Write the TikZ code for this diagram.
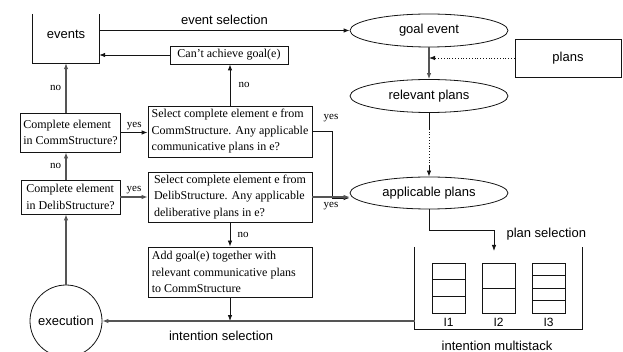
\documentclass[tikz,border=0pt]{standalone}
\usepackage{fontspec}
\setmainfont{Liberation Serif}
\setsansfont{Liberation Sans}
\usepackage{tikz}
\usetikzlibrary{shapes.geometric, arrows.meta, positioning, calc}
\definecolor{mydark}{RGB}{20,20,20}
\definecolor{mygray}{RGB}{85,85,85}
\tikzset{
  box/.style={rectangle, draw=mydark, line width=0.8pt, inner sep=3pt,
    font=\fontsize{12}{16.5}\selectfont, align=left},
  oval/.style={ellipse, draw=mydark, line width=0.8pt, minimum width=158pt,
    minimum height=33pt, font=\fontsize{13}{15}\sffamily},
  sanslbl/.style={font=\fontsize{13}{15}\sffamily, text=black},
  yn/.style={font=\fontsize{11}{13}\selectfont, text=black},
  arrow/.style={-{Latex[length=6pt,width=4.5pt]}, line width=0.8pt, color=mydark},
  grayarrow/.style={-{Latex[length=6pt,width=4.5pt]}, line width=1.1pt, color=mygray},
  line/.style={line width=0.8pt, color=mydark}
}
\begin{document}
\begin{tikzpicture}[x=1pt, y=-1pt]
\useasboundingbox (0,0) rectangle (623,352);
% left column
\node[minimum width=66pt, minimum height=49pt, inner sep=0pt] (ev) at (66,38.5) {};
\draw[line] (ev.north west) -- (ev.south west) -- (ev.south east) -- (ev.north east);
\node[sanslbl] (evtxt) at (66,34) {events};
\node[box, minimum width=99pt, minimum height=39pt] (cq) at (70.5,132.5)
  {Complete element\\in CommStructure?};
\node[box, minimum width=99pt, minimum height=34pt] (dq) at (70.5,197)
  {Complete element\\in DelibStructure?};
\node[circle, draw=mydark, line width=0.8pt, minimum size=72pt, sanslbl] (ex) at (66,321) {execution};
% middle column
\node[box, align=center, minimum width=118pt, minimum height=18pt] (cant) at (229,55) {Can't achieve goal(e)};
\node[box, minimum width=164pt, minimum height=51pt] (cs) at (230,131.5)
  {Select complete element e from\\CommStructure. Any applicable\\communicative plans in e?};
\node[box, minimum width=164pt, minimum height=50pt] (ds) at (230,197)
  {Select complete element e from\\DelibStructure. Any applicable\\deliberative plans in e?};
\node[box, minimum width=164pt, minimum height=50pt] (add) at (230,272)
  {Add goal(e) together with\phantom{eeeeee}\\relevant communicative plans\\to CommStructure};
% right column
\node[oval] (ge) at (429,30.5) {goal event};
\node[oval] (rp) at (429,96) {relevant plans};
\node[oval, minimum height=32pt] (ap) at (429,193) {applicable plans};
\node[rectangle, draw=mydark, line width=0.8pt, minimum width=106pt, minimum height=38pt, sanslbl] (pl) at (568,58) {plans};
\node[minimum width=167pt, minimum height=82pt, inner sep=0pt] (ms) at (498.5,288) {};
\draw[line] (ms.north west) -- (ms.south west) -- (ms.south east) -- (ms.north east);
\foreach \x/\n/\k in {432/3/1, 482/2/2, 532/4/3} {
  \draw[line] (\x,263) rectangle ++(33,50);
  \foreach \j in {1,...,\n} {
    \draw[line] (\x,263+\j*50/\n) -- ++(33,0);
  }
  \node[sanslbl, font=\fontsize{12}{14}\sffamily] (lbl\k) at (\x+16.5,322) {I\k};
}
\node[sanslbl] (mslbl) at (497,346) {intention multistack};
% connectors
\draw[arrow] (ge.west -| ev.east) -- node[sanslbl, above=2pt] {event selection} (ge.west);
\draw[arrow] (cant.west) -- (cant.west -| ev.east);
\draw[grayarrow] (ev.south |- cq.north) -- node[yn, left=1pt] {no} (ev.south);
\draw[grayarrow] (ev.south |- dq.north) -- node[yn, left=1pt] {no} (ev.south |- cq.south);
\draw[grayarrow] (ex.north) -- (ex.north |- dq.south);
\draw[arrow] (cq.east) -- node[yn, above=-1pt] {yes} (cq.east -| cs.west);
\draw[grayarrow] (dq.east) -- node[yn, above=-1pt] {yes} (dq.east -| ds.west);
\draw[arrow] (cs.north) -- node[yn, right=5pt] {no} (cs.north |- cant.south);
\draw[arrow] (ds.south) -- node[yn, right=4pt] {no} (add.north);
\draw[arrow] (add.south) -- (add.south |- ex.east);
\draw[arrow] (cs.east) -- ++(20,0) coordinate (cscorner) |- ([yshift=-5pt]ap.west);
\node[yn] (csyes) at (331,118) {yes};
\draw[grayarrow] (ds.east) -- node[yn, below=1pt, pos=0.5] {yes} (ds.east -| ap.west);
\draw[grayarrow] (ge.south) -- (rp.north);
\draw[arrow, dotted] (pl.west) -- (pl.west -| ge.south);
\draw[line] (rp.south) -- ++(0,16) coordinate (dot1);
\draw[line, dotted] (dot1) -- ++(0,37) coordinate (dot2);
\draw[arrow] (dot2) -- (ap.north);
\draw[arrow] (ap.south) -- ++(0,21) -| coordinate (psend) (494,251);
\node[sanslbl, anchor=west] (pslbl) at (503,234) {plan selection};
\draw[grayarrow] (ms.west |- ex.east) -- node[sanslbl, below=6pt, pos=0.62] {intention selection} (ex.east);
\end{tikzpicture}
\end{document}
